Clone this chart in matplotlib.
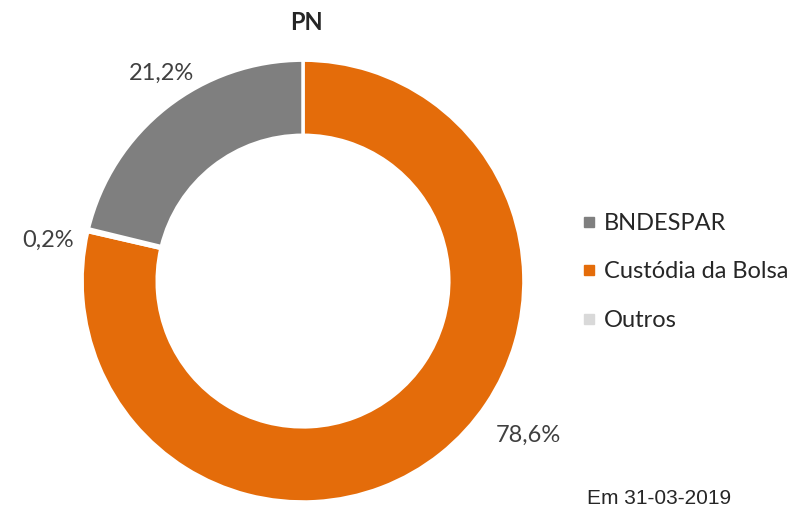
import matplotlib.pyplot as plt
from matplotlib.lines import Line2D

plt.rcParams['font.family'] = ['Lato', 'DejaVu Sans']

# dados (ordem no gráfico, sentido horário a partir do topo)
categorias = ['Custódia da Bolsa', 'Outros', 'BNDESPAR']
valores = [78.6, 0.2, 21.2]
cores = ['#E46C0A', '#D9D9D9', '#7F7F7F']
rotulos = ['78,6%', '0,2%', '21,2%']
ordem_legenda = ['BNDESPAR', 'Custódia da Bolsa', 'Outros']

fig = plt.figure(figsize=(8.05, 5.09), dpi=100)
ax = fig.add_axes([0.1019, 0.0138, 0.549, 0.868])

wedges, _ = ax.pie(valores, colors=cores, startangle=90, counterclock=False,
                   radius=1.0, wedgeprops=dict(width=0.34, edgecolor='white', linewidth=2.5))
ax.set_xlim(-1, 1)
ax.set_ylim(-1, 1)
ax.set_aspect('equal')
ax.axis('off')

pos_rotulos = [(528, 435), (48, 240), (161, 73)]
for txt, (px, py) in zip(rotulos, pos_rotulos):
    fig.text(px / 805, 1 - py / 509, txt, fontsize=17, color='#404040',
             ha='center', va='center')

fig.text(306 / 805, 1 - 22 / 509, 'PN', fontsize=17, fontweight='bold',
         color='#262626', ha='center', va='center')

handles = []
for nome in ordem_legenda:
    c = cores[categorias.index(nome)]
    handles.append(Line2D([], [], marker='s', linestyle='', markersize=7.5,
                          markerfacecolor=c, markeredgecolor=c, label=nome))
fig.legend(handles=handles, loc='center left', bbox_to_anchor=(0.705, 1 - 272 / 509),
           frameon=False, fontsize=17, labelspacing=1.17, handletextpad=0.25,
           handlelength=0.8, labelcolor='#262626', borderpad=0)

fig.text(587 / 805, 1 - 508 / 509, 'Em 31-03-2019', fontsize=15, color='#262626',
         ha='left', va='bottom', family=['Liberation Sans'])

fig.savefig('out.png', dpi=100)
